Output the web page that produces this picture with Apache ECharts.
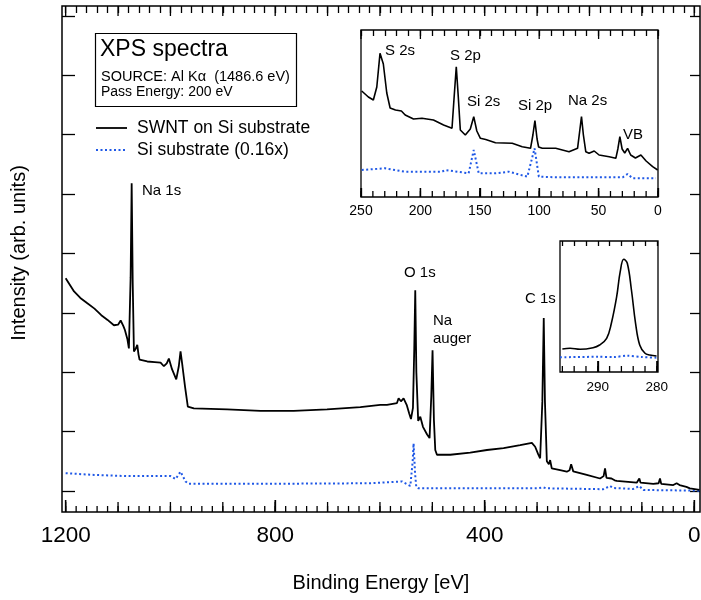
<!DOCTYPE html>
<html>
<head>
<meta charset="utf-8">
<script src="https://cdn.jsdelivr.net/npm/echarts@6/dist/echarts.min.js"></script>
<style>html,body{margin:0;padding:0;background:#fff}#c{width:701px;height:600px}</style>
</head>
<body>
<div id="c"></div>
<script>
// ---------- data (binding energy [eV], intensity in arbitrary units) ----------
const mainTickLabels = [0, 400, 800, 1200];
const lowBETickLabels = [0, 50, 100, 150, 200, 250];
const c1sTickLabels = [280, 290];

const swntSurvey = [[1200,3.58],[1184,3.36],[1172,3.25],[1158.6,3.16],[1145,3.07],[1136.5,3.00],[1132,2.96],[1120,2.88],[1107.9,2.79],[1100,2.80],[1095,2.87],[1090,2.78],[1086.9,2.71],[1082,2.55],[1079.3,2.40],[1076,3.6],[1074,5.18],[1072,3.5],[1069.7,2.35],[1066,2.4],[1063.3,2.46],[1061,2.3],[1058.9,2.21],[1044.2,2.18],[1030,2.17],[1018.8,2.16],[1012.5,2.10],[1007,2.15],[1003,2.23],[997,2.05],[988.9,1.88],[984,2.1],[980.7,2.35],[977,2.1],[972,1.75],[966.8,1.42],[955.3,1.39],[891.7,1.375],[828.1,1.35],[764.6,1.35],[701,1.375],[637.4,1.41],[599.3,1.45],[586.6,1.45],[567.5,1.48],[564.4,1.56],[560,1.51],[554.9,1.56],[549,1.45],[544,1.30],[540.8,1.21],[537,1.4],[534.5,2.4],[532.6,3.38],[530.5,2.0],[527,1.18],[523,1.25],[517.9,1.08],[510,0.95],[505.3,0.89],[502,1.6],[499.6,2.37],[497,1.2],[494.4,0.69],[491.2,0.61],[465.8,0.61],[427.7,0.645],[395.8,0.69],[364,0.72],[332.3,0.77],[310,0.81],[303.7,0.745],[298,0.62],[294.2,0.55],[290,1.5],[287.3,2.91],[285,1.5],[281.4,0.5],[277.5,0.45],[275.1,0.52],[272,0.38],[256,0.35],[243.3,0.325],[238,0.35],[235,0.45],[231,0.33],[227.5,0.30],[205.2,0.27],[179.8,0.21],[173,0.25],[170.3,0.38],[167.5,0.22],[165.9,0.20],[158,0.21],[155.6,0.23],[152,0.18],[148,0.17],[109.8,0.14],[106.5,0.16],[104.8,0.21],[102.5,0.14],[78.2,0.12],[68,0.13],[65.4,0.21],[63,0.12],[40,0.1],[33.6,0.13],[28,0.1],[15,0.07],[8.3,0.045],[-10,0.02]];

const siSurvey = [[1200,0.30],[1146,0.27],[1082.3,0.25],[999.8,0.25],[990.2,0.20],[980.7,0.325],[971.2,0.16],[964.9,0.12],[828,0.12],[618,0.13],[558,0.16],[542,0.084],[537.5,0.5],[535.8,0.80],[533,0.3],[530.7,0.07],[526.3,0.045],[300.5,0.045],[287.9,0.06],[283,0.045],[173.5,0.03],[160.7,0.084],[155,0.05],[116.3,0.034],[104.8,0.084],[97.2,0.017],[-10,0.005]];

const swntLowBE = [[249.4,106],[243.8,100],[239.6,97],[236.7,110],[234,143.7],[231.2,133],[228.3,104],[225.5,89],[221,87],[216,86],[212.8,82],[205.8,78],[198.7,78.7],[189,77],[180.5,72],[173.4,68.7],[171.6,100],[169.8,130.3],[168.1,100],[166.4,67],[162.2,62],[158,68],[155.1,80.3],[152.5,66],[149.5,58.7],[145,57.5],[136.8,54.3],[122.7,53.7],[114.3,50.3],[107.3,48.7],[105.3,62],[103.6,76.3],[101.8,58],[100.5,50],[97.4,48.7],[86.1,48.7],[74.9,45.3],[67.7,48.7],[66,65],[64.4,80.3],[62.8,62],[60.8,45.3],[58,43.7],[53.7,46],[49.6,42],[41.1,40.3],[35.5,38.7],[33.8,48],[32.1,60.3],[30.2,48],[28,44],[25.6,48.7],[23,42],[19,39],[14.4,42],[10,36],[4.5,30.3],[0.3,27]];

const siLowBE = [[249.4,27],[229.7,28.7],[212.8,25.3],[181.9,25.3],[179,27],[159.4,23.7],[155.1,47],[150.9,23.7],[136.8,23.7],[125.6,25.3],[110,20.3],[103.9,48.7],[100.3,20.3],[86.1,19.7],[29.8,19.7],[25.6,23],[21.4,18.7],[1.7,18.7]];

const swntC1s = [[296,23],[294.7,23.7],[293,22.7],[290.8,24.3],[289.7,27],[288.5,33.7],[287.7,48.7],[286.8,75.3],[286.2,100.3],[285.6,112.7],[285,108.7],[284.3,82],[283.6,48.7],[282.9,27],[282,18.7],[281.2,17],[280.05,16]];

const siC1s = [[296.4,14.7],[290,15.2],[287.3,15],[285,16.3],[282.5,15],[280,14.3]];

const peakLabelsSurvey = ['Na 1s', 'O 1s', 'Na', 'auger', 'C 1s'];
const peakLabelsLowBE = ['S 2s', 'S 2p', 'Si 2s', 'Si 2p', 'Na 2s', 'VB'];

// ---------- helpers ----------
function range(a, b, s) { const r = []; for (let v = a; v <= b + 1e-9; v += s) r.push(+v.toFixed(6)); return r; }
const FONT = '"Liberation Sans", Arial, sans-serif';
const BLACK = '#000';
const BLUE = '#1f58e6';

function tickAxis(gridIndex, position, min, max, values, len, extra) {
  return Object.assign({
    type: 'value', gridIndex, position, min, max, inverse: true,
    axisLine: { show: false, onZero: false },
    axisTick: { show: true, inside: true, length: len, customValues: values, lineStyle: { color: BLACK, width: 1.3 } },
    axisLabel: { show: false },
    splitLine: { show: false }
  }, extra || {});
}
function yTickAxis(gridIndex, position, min, max, values, len) {
  return {
    type: 'value', gridIndex, position, min, max,
    axisLine: { show: false, onZero: false },
    axisTick: { show: values.length > 0, inside: true, length: len, customValues: values, lineStyle: { color: BLACK, width: 1.3 } },
    axisLabel: { show: false },
    splitLine: { show: false }
  };
}
const plain = v => String(v);

const MX = [-11, 1207];
const MY = [-0.354, 8.165];
const IX = [0, 250];
const IY = [0, 167];
const CX = [279.8, 296.4];
const CY = [0, 131];

function g(rect, extra) { return Object.assign({ outerBoundsMode: 'none', containLabel: false }, rect, extra || {}); }

const option = {
  animation: false,
  backgroundColor: '#fff',
  grid: [
    g({ left: 62, top: 6, width: 638, height: 506 }, { show: true, borderColor: BLACK, borderWidth: 1.5, backgroundColor: 'transparent' }),
    g({ left: 361, top: 30, width: 297, height: 167 }, { show: true, borderColor: BLACK, borderWidth: 1.3, backgroundColor: '#fff' }),
    g({ left: 560, top: 241, width: 98, height: 131 }, { show: true, borderColor: BLACK, borderWidth: 1.3, backgroundColor: '#fff' })
  ],
  xAxis: [
    tickAxis(0, 'bottom', MX[0], MX[1], mainTickLabels, 12, {
      axisLabel: { show: true, customValues: mainTickLabels, formatter: plain, fontSize: 22.5, fontFamily: FONT, color: BLACK, margin: 12 },
      name: 'Binding Energy [eV]', nameLocation: 'middle', nameGap: 61,
      nameTextStyle: { fontSize: 20, fontFamily: FONT, color: BLACK }
    }),
    tickAxis(0, 'top', MX[0], MX[1], range(0, 1200, 20), 7),
    tickAxis(1, 'bottom', IX[0], IX[1], lowBETickLabels, 9, {
      axisLabel: { show: true, customValues: lowBETickLabels, formatter: plain, fontSize: 14, fontFamily: FONT, color: BLACK, margin: 7 }
    }),
    tickAxis(1, 'top', IX[0], IX[1], range(0, 250, 10), 6),
    tickAxis(2, 'bottom', CX[0], CX[1], c1sTickLabels, 11, {
      axisLabel: { show: true, customValues: c1sTickLabels, formatter: plain, fontSize: 13.5, fontFamily: FONT, color: BLACK, margin: 8 }
    }),
    tickAxis(2, 'top', CX[0], CX[1], range(280, 296, 2), 5)
  ],
  yAxis: [
    yTickAxis(0, 'left', MY[0], MY[1], range(0, 8, 1), 13),
    yTickAxis(0, 'right', MY[0], MY[1], range(0, 8, 1), 10),
    yTickAxis(1, 'left', IY[0], IY[1], [], 0),
    yTickAxis(2, 'left', CY[0], CY[1], [], 0)
  ],
  series: [
    { type: 'line', name: 'SWNT on Si substrate', xAxisIndex: 0, yAxisIndex: 0, data: swntSurvey, showSymbol: false, lineStyle: { color: BLACK, width: 1.8 }, z: 3 },
    { type: 'line', name: 'Si substrate (0.16x)', xAxisIndex: 0, yAxisIndex: 0, data: siSurvey, showSymbol: false, lineStyle: { color: BLUE, width: 2, type: [2, 2.5] }, z: 2 },
    { type: 'line', xAxisIndex: 2, yAxisIndex: 2, data: swntLowBE, showSymbol: false, lineStyle: { color: BLACK, width: 1.6 }, z: 5 },
    { type: 'line', xAxisIndex: 2, yAxisIndex: 2, data: siLowBE, showSymbol: false, lineStyle: { color: BLUE, width: 2, type: [2, 2.5] }, z: 4 },
    { type: 'line', xAxisIndex: 4, yAxisIndex: 3, data: swntC1s, smooth: 0.4, showSymbol: false, lineStyle: { color: BLACK, width: 1.6 }, z: 5 },
    { type: 'line', xAxisIndex: 4, yAxisIndex: 3, data: siC1s, smooth: 0.3, showSymbol: false, lineStyle: { color: BLUE, width: 2, type: [2, 2.5] }, z: 4 }
  ]
};

function txt(x, y, text, size) {
  return { type: 'text', x, y, z: 100, style: { text, font: size + 'px ' + FONT, fill: BLACK, align: 'left', verticalAlign: 'middle' } };
}
const staticGraphic = [
  { type: 'rect', z: 90, shape: { x: 95.5, y: 33.5, width: 201, height: 73 }, style: { fill: '#fff', stroke: BLACK, lineWidth: 1.2 } },
  txt(100, 50, 'XPS spectra', 23),
  txt(101, 77, 'SOURCE: Al K\u03b1  (1486.6 eV)', 14.5),
  txt(101, 92, 'Pass Energy: 200 eV', 14),
  { type: 'line', z: 100, shape: { x1: 96, y1: 128, x2: 127, y2: 128 }, style: { stroke: BLACK, lineWidth: 1.8 } },
  { type: 'line', z: 100, shape: { x1: 96, y1: 150, x2: 127, y2: 150 }, style: { stroke: BLUE, lineWidth: 2, lineDash: [2, 2.5] } },
  txt(137, 128, 'SWNT on Si substrate', 17.5),
  txt(137, 150, 'Si substrate (0.16x)', 17.5),
  txt(142, 191, peakLabelsSurvey[0], 15),
  txt(404, 273, peakLabelsSurvey[1], 15),
  txt(433, 321, peakLabelsSurvey[2], 15),
  txt(433, 339, peakLabelsSurvey[3], 15),
  txt(525, 299, peakLabelsSurvey[4], 15),
  txt(385, 51, peakLabelsLowBE[0], 15),
  txt(450, 56, peakLabelsLowBE[1], 15),
  txt(467, 102, peakLabelsLowBE[2], 15),
  txt(518, 106, peakLabelsLowBE[3], 15),
  txt(568, 101, peakLabelsLowBE[4], 15),
  txt(623, 135, peakLabelsLowBE[5], 15),
  { type: 'text', x: 19, y: 253, z: 100, rotation: Math.PI / 2, style: { text: 'Intensity (arb. units)', font: '20px ' + FONT, fill: BLACK, align: 'center', verticalAlign: 'middle' } }
];
option.graphic = staticGraphic;

const chart = echarts.init(document.getElementById('c'), null, { renderer: 'canvas' });
chart.setOption(option);

// extra tick levels, positioned through the axes' own scales
function ticks(xi, yi, values, edgeVal, dir, len) {
  return values.map(v => {
    const p = chart.convertToPixel({ xAxisIndex: xi, yAxisIndex: yi }, [v, edgeVal]);
    return { type: 'line', z: 120, shape: { x1: p[0], y1: p[1], x2: p[0], y2: p[1] + dir * len }, style: { stroke: BLACK, lineWidth: 1.3 } };
  });
}
const tickGraphic = [].concat(
  ticks(0, 0, range(0, 1200, 100), MY[0], -1, 10),
  ticks(0, 0, range(0, 1200, 20), MY[0], -1, 6),
  ticks(0, 0, mainTickLabels, MY[0], -1, 12),
  ticks(0, 0, range(0, 1200, 100), MY[1], 1, 10),
  ticks(2, 2, range(0, 250, 10), IY[0], -1, 6),
  ticks(2, 2, lowBETickLabels, IY[0], -1, 9),
  ticks(2, 2, lowBETickLabels, IY[1], 1, 9),
  ticks(4, 3, range(280, 296, 2), CY[0], -1, 6),
  ticks(4, 3, c1sTickLabels, CY[0], -1, 11)
);
chart.setOption({ graphic: staticGraphic.concat(tickGraphic) });
</script>
</body>
</html>
